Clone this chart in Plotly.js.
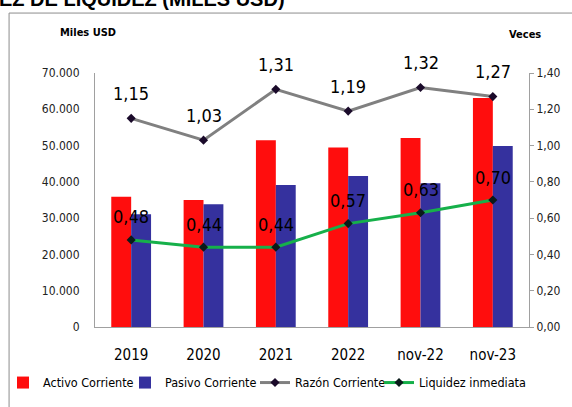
<!DOCTYPE html>
<html><head><meta charset="utf-8">
<script src="https://cdn.plot.ly/plotly-3.0.1.min.js"></script>
<style>html,body{margin:0;padding:0;background:#fff}#c{width:572px;height:407px}</style>
</head><body><div id="c"></div>
<script>
const categories = ['2019','2020','2021','2022','nov-22','nov-23'];
const activoCorriente = [35900, 35000, 51500, 49500, 52100, 63100];
const pasivoCorriente = [31100, 33800, 39100, 41600, 39600, 49900];
const razonCorriente = [1.15, 1.03, 1.31, 1.19, 1.32, 1.27];
const liquidezInmediata = [0.48, 0.44, 0.44, 0.57, 0.63, 0.70];

const F = '"DejaVu Sans Condensed", "Liberation Sans Narrow", "Liberation Sans", Arial, sans-serif';
const fmt = v => v.toFixed(2).replace('.', ',');

const traces = [
  {type:'bar', name:'Activo Corriente', x:categories, y:activoCorriente, marker:{color:'#FF0D0D'}, yaxis:'y', legend:'legend'},
  {type:'bar', name:'Pasivo Corriente', x:categories, y:pasivoCorriente, marker:{color:'#35319E'}, yaxis:'y', legend:'legend2'},
  {type:'scatter', mode:'lines+markers', name:'Razón Corriente', x:categories, y:razonCorriente, yaxis:'y2', legend:'legend3',
   line:{color:'#808080', width:3}, marker:{symbol:'diamond', size:7, color:'#1a0a2a'}},
  {type:'scatter', mode:'lines+markers', name:'Liquidez inmediata', x:categories, y:liquidezInmediata, yaxis:'y2', legend:'legend4',
   line:{color:'#16B04A', width:3}, marker:{symbol:'diamond', size:7, color:'#0a1a1a'}}
];

const labelFont = {size:18, family:F, color:'#000'};
const annotations = [];
categories.forEach((c, i) => {
  annotations.push({x:i, y:razonCorriente[i], xref:'x', yref:'y2', text:fmt(razonCorriente[i]), showarrow:false, yshift:25, font:labelFont});
  annotations.push({x:i, y:liquidezInmediata[i], xref:'x', yref:'y2', text:fmt(liquidezInmediata[i]), showarrow:false, yshift:23, font:labelFont});
});
annotations.push(
  {text:'EZ DE LIQUIDEZ (MILES USD)', xref:'paper', yref:'paper', x:-0.225, xanchor:'left', y:1.29, yanchor:'middle', showarrow:false,
   font:{size:20, family:'"Liberation Sans", Arial, sans-serif', color:'#000', weight:'bold'}},
  {text:'<b>Miles USD</b>', xref:'paper', yref:'paper', x:-0.015, xanchor:'center', y:1.16, yanchor:'middle', showarrow:false, font:{size:11, family:F, color:'#000'}},
  {text:'<b>Veces</b>', xref:'paper', yref:'paper', x:0.99, xanchor:'center', y:1.15, yanchor:'middle', showarrow:false, font:{size:11, family:F, color:'#000'}}
);

const legBase = {orientation:'h', xref:'container', yref:'container', xanchor:'left', y:0.096, yanchor:'top',
                 font:{size:12.5, family:F, color:'#000'}, itemwidth:30, bgcolor:'rgba(0,0,0,0)'};

const layout = {
  width:572, height:407,
  margin:{l:95, r:43, t:73, b:80, autoexpand:false},
  separators:',.',
  paper_bgcolor:'#fff', plot_bgcolor:'#fff',
  font:{family:F, color:'#000'},
  barmode:'group', bargap:0.45, bargroupgap:0,
  showlegend:true,
  legend:Object.assign({}, legBase, {x:0.0052}),
  legend2:Object.assign({}, legBase, {x:0.2185}),
  legend3:Object.assign({}, legBase, {x:0.4458}),
  legend4:Object.assign({}, legBase, {x:0.6626}),
  xaxis:{type:'category', categoryarray:categories, range:[-0.5, categories.length-0.5], showline:true, linecolor:'#A0A0A0', linewidth:1, ticks:'', ticklabelstandoff:14, tickfont:{size:15, family:F, color:'#000'}, showgrid:false, zeroline:false},
  yaxis:{range:[0,70000], dtick:10000, tickformat:',d', showline:true, linecolor:'#A0A0A0', linewidth:1, showgrid:false, zeroline:false,
         ticks:'', ticklabelstandoff:12, tickfont:{size:12, family:F, color:'#222'}},
  yaxis2:{range:[0,1.4], dtick:0.2, tickformat:'.2f', overlaying:'y', side:'right', showline:true, linecolor:'#A0A0A0', linewidth:1,
          showgrid:false, zeroline:false, ticks:'outside', ticklen:4, tickcolor:'#A0A0A0', tickfont:{size:12, family:F, color:'#222'}},
  shapes:[
    {type:'rect', xref:'paper', yref:'paper', x0:-0.198, x1:1.3, y0:-0.6, y1:1.236, line:{color:'#8C8C8C', width:1}, fillcolor:'rgba(0,0,0,0)', layer:'below'}
  ],
  annotations:annotations
};

Plotly.newPlot('c', traces, layout, {displayModeBar:false, staticPlot:true});
</script></body></html>
